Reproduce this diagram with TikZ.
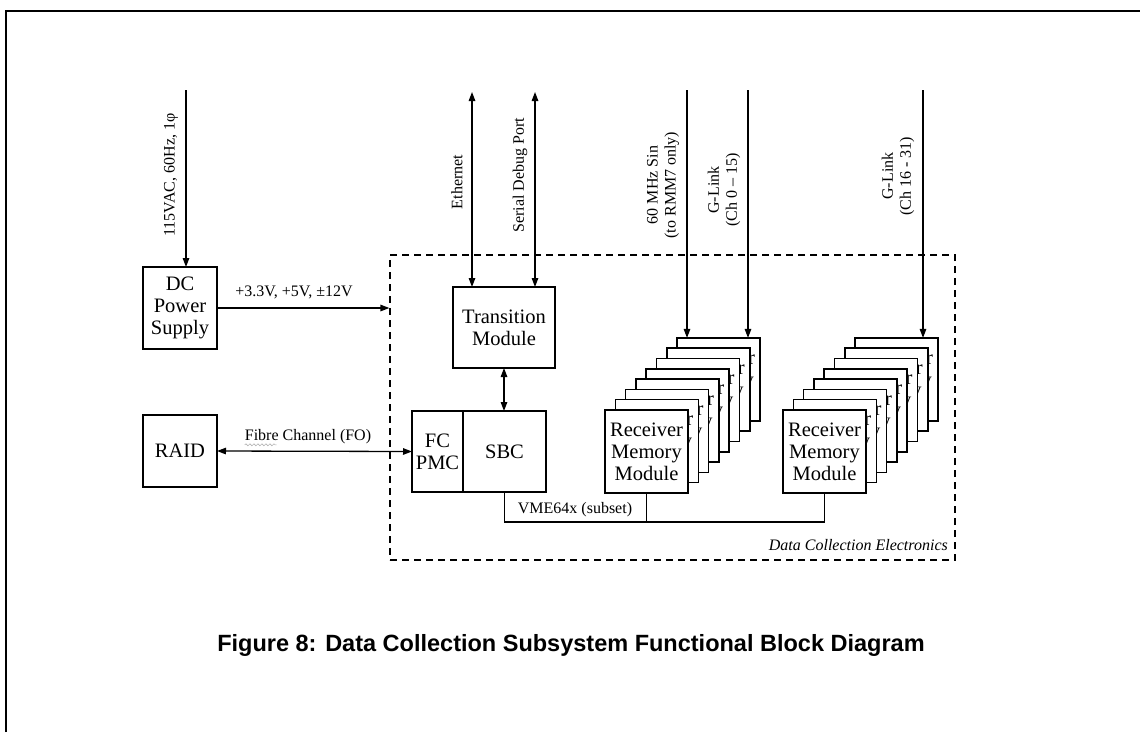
\documentclass[tikz,border=0pt]{standalone}
\usepackage{fontspec}
\setmainfont{Liberation Serif}
\newfontfamily\capfont{Liberation Sans}
\usetikzlibrary{arrows.meta,positioning,decorations.pathmorphing}

\begin{document}
\begin{tikzpicture}[x=1pt,y=-1pt]

    \tikzset{
      box/.style={
        draw,
        line width=1.5pt,
        align=center,
        inner sep=1pt,
        outer sep=0pt,
        fill=white,
        font=\fontsize{20.5}{22}\selectfont,
      },
      card/.style={
        box,
        minimum width=83pt,
        minimum height=83pt,
      },
      lbl/.style={
        inner sep=0pt,
        align=center,
        font=\fontsize{16}{18}\selectfont,
      },
      link/.style={
        line width=1.3pt,
        -{Triangle[length=9pt,width=6.5pt]},
      },
      duplex/.style={
        link,
        {Triangle[length=9pt,width=6.5pt]}-{Triangle[length=9pt,width=6.5pt]},
      },
    }
    \useasboundingbox (0,0) rectangle (1140,732);
    \draw[line width=2.5pt] (6,732)--(6,11)--(1140,11);

	% electronics enclosure
	\node[draw, dashed, line width=1.2pt, dash pattern=on 7pt off 5pt, minimum width=565pt, minimum height=305pt] (dce) at (672.5,407.5) {};
	\node[lbl, anchor=base east, font=\fontsize{16}{18}\selectfont\itshape] (dcelbl) at (948,550) {Data Collection Electronics};

	\node[box, minimum width=74pt, minimum height=82pt] (dcps) at (180,308) {DC\\Power\\Supply};
	\node[box, minimum width=74pt, minimum height=72pt] (raid) at (180,451) {RAID};
	\node[box, minimum width=102pt, minimum height=81pt] (trans) at (504,327.5) {Transition\\Module};
	\node[box, minimum width=51pt, minimum height=81pt] (fcpmc) at (437.5,451.5) {FC\\PMC};
	\node[box, minimum width=83pt, minimum height=81pt, right=0pt of fcpmc] (sbc) {SBC};

	% receiver memory module stacks, back to front
	\foreach \i in {7,...,0} {
	  \node[card] (rmmA\i) at (646.5+10.3*\i,451.5-10.3*\i) {Receiver\\Memory\\Module};
	  \node[card] (rmmB\i) at (824.5+10.3*\i,451.5-10.3*\i) {Receiver\\Memory\\Module};
	}

	\coordinate (acin) at (186,90);
	\coordinate (eth) at (472,92);
	\coordinate (dbg) at (535,92);
	\coordinate (sin) at (687,90);
	\coordinate (glA) at (748,90);
	\coordinate (glB) at (923,90);
	\coordinate (bus) at (0,522);

	\draw[link] (acin) -- (acin |- dcps.north);
	\draw[link] (dcps.east) -- (dcps.east -| dce.west);
	\draw[duplex] (raid.east) -- (fcpmc.west);
	\draw[duplex] (eth) -- (eth |- trans.north);
	\draw[duplex] (dbg) -- (dbg |- trans.north);
	\draw[duplex] (trans.south) -- (trans.south |- sbc.north);
	\draw[link] (sin) -- (sin |- rmmA7.north);
	\draw[link] (glA) -- (glA |- rmmA7.north);
	\draw[link] (glB) -- (glB |- rmmB7.north);

	% VME bus
	\draw[line width=1.3pt] (sbc.south) -- (sbc.south |- bus) -| (rmmB0.south);
	\draw[line width=1.3pt] (rmmA0.south) -- (rmmA0.south |- bus);

	\node[lbl, rotate=90] (aclbl) at (171,175) {115VAC, 60Hz, 1φ};
	\node[lbl] (pwrlbl) at (294,292) {+3.3V, +5V, ±12V};
	\node[lbl] (fibre) at (308,437) {Fibre Channel (FO)};
	\draw[gray!60, line width=0.6pt, decorate, decoration={snake, amplitude=1pt, segment length=4pt}] ([yshift=-4pt]fibre.base west) -- ++(32,0);
	\node[lbl, rotate=90] (ethlbl) at (457,182) {Ethernet};
	\node[lbl, rotate=90] (dbglbl) at (520,175) {Serial Debug Port};
	\node[lbl, rotate=90] (sinlbl) at (663,185) {60 MHz Sin\\(to RMM7 only)};
	\node[lbl, rotate=90] (glAlbl) at (724,190) {G-Link\\(Ch 0 -- 15)};
	\node[lbl, rotate=90] (glBlbl) at (898,176) {G-Link\\(Ch 16 - 31)};
	\node[lbl] (vmelbl) at (575,510) {VME64x (subset)};

	\node[inner sep=0pt, font=\capfont\bfseries\fontsize{23.5}{26}\selectfont] (caption) at (571,645) {Figure 8: Data Collection Subsystem Functional Block Diagram};

\end{tikzpicture}
\end{document}
